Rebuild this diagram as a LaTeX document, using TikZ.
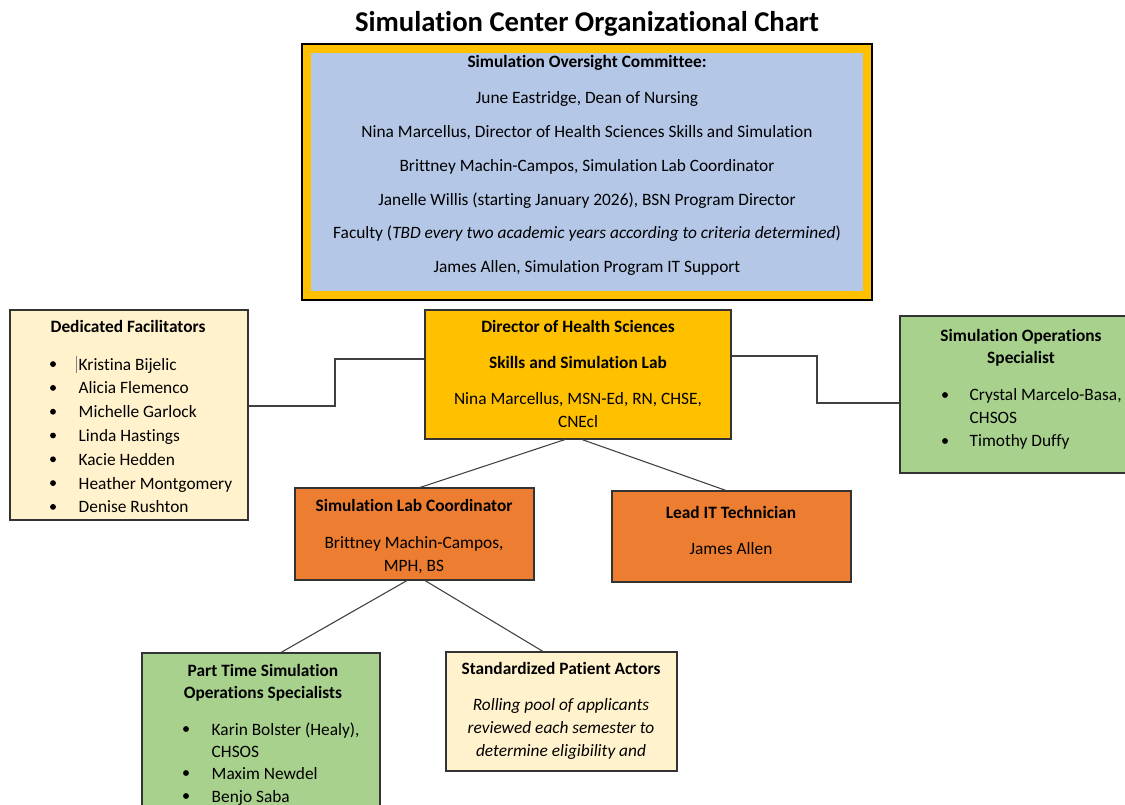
\documentclass[tikz,border=0pt]{standalone}
\usepackage{fontspec}
\setmainfont{Carlito}[Ligatures=NoCommon]
\usetikzlibrary{fit}
\definecolor{gold}{HTML}{FFC000}
\definecolor{paleblue}{HTML}{B4C7E7}
\definecolor{rust}{HTML}{ED7D31}
\definecolor{leaf}{HTML}{A9D18E}
\definecolor{cream}{HTML}{FFF2CC}
\tikzset{
  box/.style={draw=black!80, line width=0.8pt, inner sep=0pt},
  conn/.style={draw=black!75, line width=0.8pt},
  hd/.style={anchor=base, font=\fontsize{13}{15}\selectfont\bfseries},
  tx/.style={anchor=base},
  itx/.style={anchor=base, font=\fontsize{13}{15}\selectfont\itshape},
  itm/.style={anchor=base west},
}
\begin{document}
\begin{tikzpicture}[x=0.75pt,y=-0.75pt,font=\fontsize{13}{15}\selectfont]
   \fill[white] (0,0) rectangle (1125,805);
   \useasboundingbox (0,0) rectangle (1125,805);
   \node[anchor=base, font=\fontsize{21.5}{24}\selectfont\bfseries] (title) at (587,32) {Simulation Center Organizational Chart};
   % oversight committee
   \node[box, draw=black, fill=gold, fit={(302,44) (872,300)}] (com) {};
   \fill[paleblue] (311,53) rectangle (863,291);
   \node[hd] (com0) at (587,68) {Simulation Oversight Committee:};
   \foreach \line [count=\i] in {{June Eastridge, Dean of Nursing},
       {Nina Marcellus, Director of Health Sciences Skills and Simulation},
       {Brittney Machin-Campos, Simulation Lab Coordinator},
       {Janelle Willis (starting January 2026), BSN Program Director},
       {Faculty (\textit{TBD every two academic years according to criteria determined})},
       {James Allen, Simulation Program IT Support}}
     \node[tx] (com\i) at (587,{70+33.8*\i}) {\line};
   % director
   \node[box, fill=gold, fit={(425,310) (731,439)}] (dir) {};
   \node[hd] (dir1) at (578,333) {Director of Health Sciences};
   \node[hd] (dir2) at (578,369) {Skills and Simulation Lab};
   \node[tx] (dir3) at (578,405) {Nina Marcellus, MSN-Ed, RN, CHSE,};
   \node[tx] (dir4) at (578,428) {CNEcl};
   % facilitators
   \node[box, fill=cream, fit={(10,310) (248,520)}] (fac) {};
   \node[hd] (fac0) at (128,333) {Dedicated Facilitators};
   \foreach \name [count=\i] in {Kristina Bijelic, Alicia Flemenco, Michelle Garlock, Linda Hastings, Kacie Hedden, Heather Montgomery, Denise Rushton}{
     \fill (53,{340.3+23.8*\i}) circle [radius=2.2pt];
     \node[itm] (fac\i) at (74,{340.3+23.8*\i+6}) {\name};
   }
   \draw[gray, line width=0.5pt] (76,356) -- (76,373);
   % operations specialist
   \node[box, fill=leaf, fit={(900,316) (1140,473)}] (ops) {};
   \node[hd] (ops0) at (1021,342) {Simulation Operations};
   \node[hd] (ops1) at (1021,364) {Specialist};
   \fill (945,395) circle [radius=2.2pt];
   \fill (945,441) circle [radius=2.2pt];
   \node[itm] (ops2) at (965,401) {Crystal Marcelo-Basa,};
   \node[itm] (ops3) at (965,424) {CHSOS};
   \node[itm] (ops4) at (965,447) {Timothy Duffy};
   % coordinator and IT
   \node[box, fill=rust, fit={(295,488) (534,580)}] (coord) {};
   \node[hd] (coord0) at (414,512) {Simulation Lab Coordinator};
   \node[tx] (coord1) at (414,548) {Brittney Machin-Campos,};
   \node[tx] (coord2) at (414,571) {MPH, BS};
   \node[box, fill=rust, fit={(612,491) (851,582)}] (lead) {};
   \node[hd] (lead0) at (731,518) {Lead IT Technician};
   \node[tx] (lead1) at (731,554) {James Allen};
   % part time and actors
   \node[box, fill=leaf, fit={(142,653) (380,820)}] (part) {};
   \node[hd] (part0) at (263,676) {Part Time Simulation};
   \node[hd] (part1) at (263,698) {Operations Specialists};
   \fill (186,729) circle [radius=2.2pt];
   \fill (186,773) circle [radius=2.2pt];
   \fill (186,796) circle [radius=2.2pt];
   \node[itm] (part2) at (207,735) {Karin Bolster (Healy),};
   \node[itm] (part3) at (207,757) {CHSOS};
   \node[itm] (part4) at (207,779) {Maxim Newdel};
   \node[itm] (part5) at (207,802) {Benjo Saba};
   \node[box, fill=cream, fit={(446,652) (677,771)}] (spa) {};
   \node[hd] (spa0) at (561,674) {Standardized Patient Actors};
   \node[itx] (spa1) at (561,710) {Rolling pool of applicants};
   \node[itx] (spa2) at (561,733) {reviewed each semester to};
   \node[itx] (spa3) at (561,756) {determine eligibility and};
   % connectors
   \draw[conn] (fac.east |- 0,406) -| (335,359) -- (dir.west |- 0,359);
   \draw[conn] (dir.east |- 0,356) -| (817,403) -- (ops.west |- 0,403);
   \draw[conn] (dir.south -| 565,0) -- (coord.north -| 420,0);
   \draw[conn] (dir.south -| 582,0) -- (lead.north -| 726,0);
   \draw[conn] (coord.south -| 407,0) -- (part.north -| 281,0);
   \draw[conn] (coord.south -| 425,0) -- (spa.north -| 543,0);
\end{tikzpicture}
\end{document}
